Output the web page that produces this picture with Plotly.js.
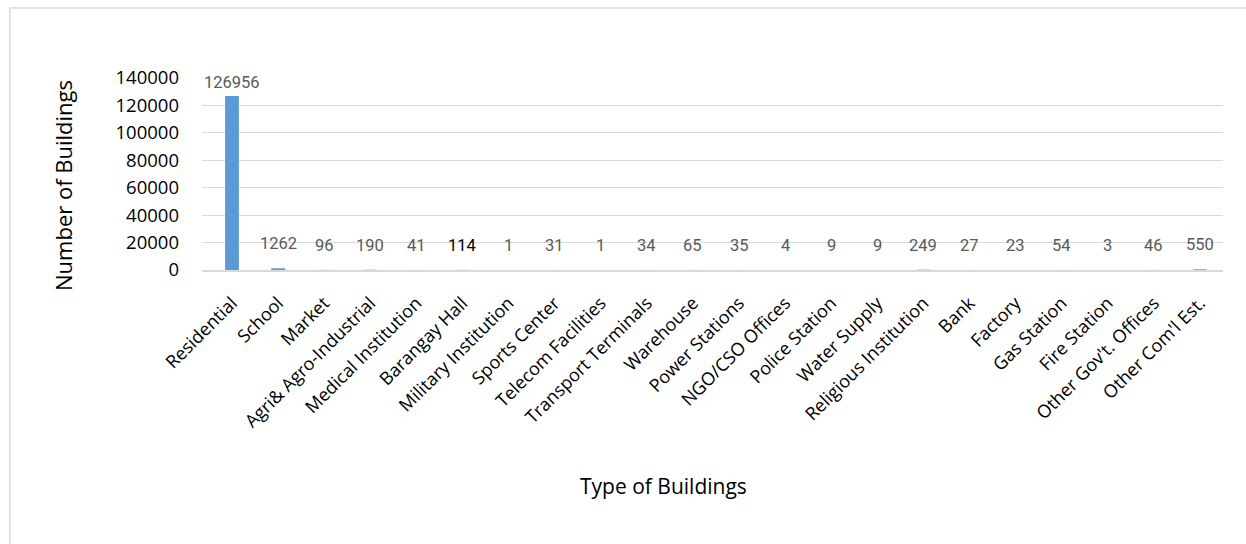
<!DOCTYPE html>
<html>
<head>
<meta charset="utf-8">
<script src="https://cdn.plot.ly/plotly-3.0.1.min.js"></script>
<style>
  html, body { margin: 0; padding: 0; background: #ffffff; }
  #chart { width: 1246px; height: 544px; }
</style>
</head>
<body>
<div id="chart"></div>
<script>
const categories = [
  "Residential", "School", "Market", "Agri& Agro-Industrial", "Medical Institution",
  "Barangay Hall", "Military Institution", "Sports Center", "Telecom Facilities",
  "Transport Terminals", "Warehouse", "Power Stations", "NGO/CSO Offices",
  "Police Station", "Water Supply", "Religious Institution", "Bank", "Factory",
  "Gas Station", "Fire Station", "Other Gov't. Offices", "Other Com'l Est."
];
const buildingCounts = [
  126956, 1262, 96, 190, 41, 114, 1, 31, 1, 34, 65, 35, 4, 9, 9, 249, 27, 23, 54, 3, 46, 550
];
const yTickValues = [0, 20000, 40000, 60000, 80000, 100000, 120000, 140000];

// Plot area in pixels (page is 1246 x 544)
const L = 202, R = 1223, T = 78, B = 270;
const W = R - L, H = B - T;
const px = x => (x - L) / W;
const py = y => (B - y) / H;

const barColor = "#5B9BD5";

const trace = {
  type: "bar",
  x: categories,
  y: buildingCounts,
  marker: { color: barColor },
  width: 0.3,
  hoverinfo: "x+y"
};

const labelAnnotations = categories.map((c, i) => ({
  x: c,
  y: buildingCounts[i],
  xref: "x",
  yref: "y",
  text: String(buildingCounts[i]),
  showarrow: false,
  yanchor: "bottom",
  yshift: buildingCounts[i] > 100000 ? 2 : 13,
  font: { family: "Roboto, 'DejaVu Sans', sans-serif", size: 16.5,
          color: buildingCounts[i] === 114 ? "#000000" : "#595959" }
}));

const layout = {
  width: 1246,
  height: 544,
  margin: { l: L, r: 1246 - R, t: T, b: 544 - B, pad: 0 },
  paper_bgcolor: "#ffffff",
  plot_bgcolor: "#ffffff",
  showlegend: false,
  xaxis: {
    type: "category",
    tickangle: -45,
    tickfont: { family: "'Open Sans', sans-serif", size: 18, color: "#000000" },
    ticks: "",
    ticklabelstandoff: 14,
    showgrid: false,
    showline: true,
    linecolor: "#d9d9d9",
    linewidth: 1.5,
    zeroline: false,
    automargin: false
  },
  yaxis: {
    range: [0, 140000],
    tickvals: yTickValues,
    ticktext: yTickValues.map(String),
    tickfont: { family: "'Open Sans', sans-serif", size: 18.5, color: "#000000" },
    showgrid: true,
    gridcolor: "#d9d9d9",
    gridwidth: 1.2,
    zeroline: false,
    showline: false,
    ticks: "",
    ticklabelstandoff: 22,
    automargin: false
  },
  annotations: labelAnnotations.concat([
    {
      xref: "paper", yref: "paper",
      x: px(663), y: py(486),
      text: "Type of Buildings",
      showarrow: false,
      xanchor: "center", yanchor: "middle",
      font: { family: "'Open Sans', sans-serif", size: 21, color: "#000000" }
    },
    {
      xref: "paper", yref: "paper",
      x: px(63), y: py(186),
      text: "Number of Buildings",
      textangle: -90,
      showarrow: false,
      xanchor: "center", yanchor: "middle",
      font: { family: "'Open Sans', sans-serif", size: 22, color: "#000000" }
    }
  ]),
  shapes: [
    {
      type: "rect",
      xref: "paper", yref: "paper",
      x0: px(10), x1: px(1260),
      y0: py(560), y1: py(8),
      line: { color: "#d9d9d9", width: 1.5 },
      fillcolor: "rgba(0,0,0,0)",
      layer: "below"
    }
  ]
};

Plotly.newPlot("chart", [trace], layout, { displayModeBar: false, staticPlot: true });
</script>
</body>
</html>
